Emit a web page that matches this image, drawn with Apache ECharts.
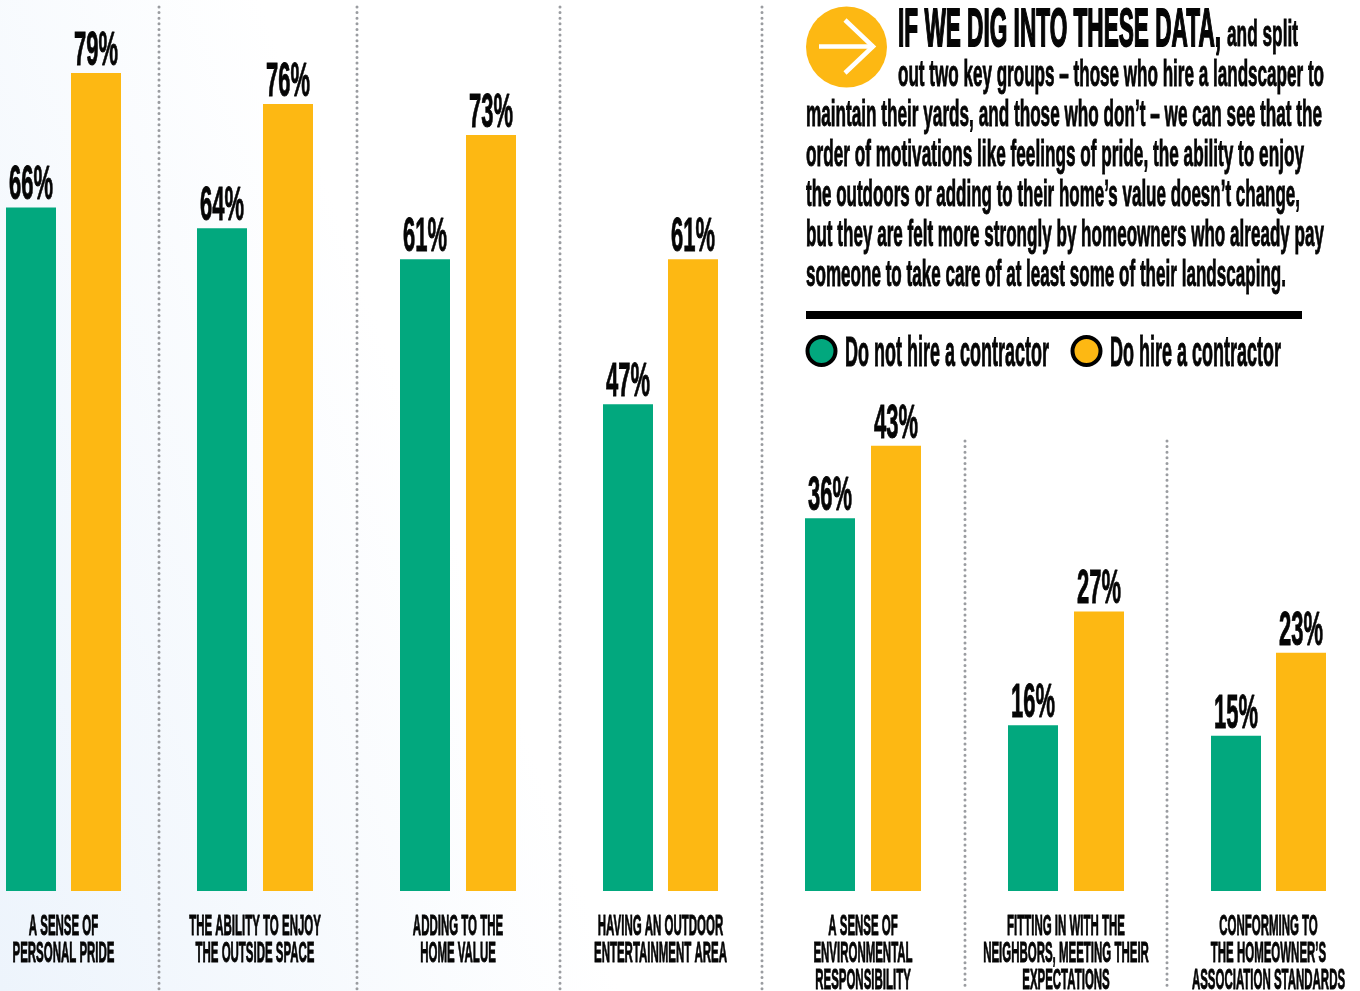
<!DOCTYPE html>
<html>
<head>
<meta charset="utf-8">
<style>html,body{margin:0;padding:0;background:#fff}#chart{width:1360px;height:991px}</style>
<script src="https://cdn.jsdelivr.net/npm/echarts@6/dist/echarts.min.js"></script>
</head>
<body>
<div id="chart"></div>
<script>
// Motivations for landscaping, split by whether the homeowner hires a contractor
const categories = [
  ['A SENSE OF', 'PERSONAL PRIDE'],
  ['THE ABILITY TO ENJOY', 'THE OUTSIDE SPACE'],
  ['ADDING TO THE', 'HOME VALUE'],
  ['HAVING AN OUTDOOR', 'ENTERTAINMENT AREA'],
  ['A SENSE OF', 'ENVIRONMENTAL', 'RESPONSIBILITY'],
  ['FITTING IN WITH THE', 'NEIGHBORS, MEETING THEIR', 'EXPECTATIONS'],
  ['CONFORMING TO', 'THE HOMEOWNER\u2019S', 'ASSOCIATION STANDARDS']
];
const doNotHire = [66, 64, 61, 47, 36, 16, 15];
const doHire = [79, 76, 73, 61, 43, 27, 23];
const seriesNames = ['Do not hire a contractor', 'Do hire a contractor'];

const GREEN = '#02a87e';
const GOLD = '#fdb813';
const INK = '#050505';
const FAMILY = '"Liberation Sans Narrow","Liberation Sans",sans-serif';

// Horizontal centre of each pair of bars, and the gap inside the pair
const groupCentres = [63.5, 255, 458, 660.5, 863, 1066, 1268.5];
const groupGaps = [15, 16, 16, 15, 16, 16, 15];
const BAR_W = 50, PANEL_W = 120;
const BASE_Y = 891, PX_PER_PCT = 10.355, AXIS_MAX = 80;

const measureCtx = document.createElement('canvas').getContext('2d');
function fontOf(size) { return 'bold ' + size + 'px ' + FAMILY; }
function widthOf(text, size) { measureCtx.font = fontOf(size); return measureCtx.measureText(text).width; }

// A condensed text element: the glyphs are squeezed horizontally to the given width
function squeezed(text, size, width, x, baseline, align, fill, weight) {
  return {
    type: 'text', x: x, y: baseline - 0.30 * size, scaleX: width / widthOf(text, size), silent: true,
    style: { text: text, font: fontOf(size), fill: fill || INK, textAlign: align || 'left', textVerticalAlign: 'middle',
             stroke: fill || INK, lineWidth: weight === undefined ? 0.9 : weight }
  };
}

const VALUE_SIZE = 48, VALUE_W = 44, VALUE_LIFT = 7;
const CAT_SIZE = 30, CAT_PITCH = 27, CAT_FIRST_BASE = 936;
const catScale = 102 / widthOf('PERSONAL PRIDE', CAT_SIZE);

const grids = [], xAxes = [], yAxes = [], series = [];
categories.forEach(function (lines, i) {
  const gap = groupGaps[i];
  grids.push({ left: groupCentres[i] - PANEL_W / 2, width: PANEL_W,
               top: BASE_Y - AXIS_MAX * PX_PER_PCT, height: AXIS_MAX * PX_PER_PCT });
  xAxes.push({ type: 'category', gridIndex: i, data: [lines.join(' ')], show: false });
  yAxes.push({ type: 'value', gridIndex: i, min: 0, max: AXIS_MAX, show: false });

  [doNotHire[i], doHire[i]].forEach(function (v, k) {
    series.push({
      type: 'bar', name: seriesNames[k], xAxisIndex: i, yAxisIndex: i, data: [v],
      barWidth: BAR_W, barGap: (gap / BAR_W * 100) + '%',
      itemStyle: { color: k === 0 ? GREEN : GOLD }, silent: true
    });
    // percentage printed above the bar
    series.push({
      type: 'custom', xAxisIndex: i, yAxisIndex: i, data: [[0, v]], silent: true, z: 5,
      renderItem: function (params, api) {
        const p = api.coord([0, api.value(1)]);
        const dx = (k === 0 ? -1 : 1) * (BAR_W + gap) / 2;
        return squeezed(api.value(1) + '%', VALUE_SIZE, VALUE_W, p[0] + dx, p[1] - VALUE_LIFT, 'center');
      }
    });
  });

  // category caption under the pair
  series.push({
    type: 'custom', xAxisIndex: i, yAxisIndex: i, data: [[0, 0]], silent: true, z: 5,
    renderItem: function (params, api) {
      const p = api.coord([0, 0]);
      return {
        type: 'group',
        children: lines.map(function (line, n) {
          const w = widthOf(line, CAT_SIZE) * catScale;
          return squeezed(line, CAT_SIZE, w, p[0], CAT_FIRST_BASE + n * CAT_PITCH, 'center');
        })
      };
    }
  });
});

// Dotted dividers between the groups
const dividers = [[159, 7], [357, 7], [560, 7], [762, 7], [965, 441], [1167, 441]];
const dividerEls = dividers.map(function (d) {
  return { type: 'line', shape: { x1: d[0], y1: d[1], x2: d[0], y2: 989 },
           style: { stroke: '#9a9ca0', lineWidth: 3, lineCap: 'round', lineDash: [0.01, 5.6] }, z: 1 };
});

// Intro paragraph: text, left edge, right edge, baseline
const paragraph = [
  ['out two key groups \u2013 those who hire a landscaper to', 898, 1324, 87],
  ['maintain their yards, and those who don\u2019t \u2013 we can see that the', 806, 1322, 127],
  ['order of motivations like feelings of pride, the ability to enjoy', 806, 1304, 167],
  ['the outdoors or adding to their home\u2019s value doesn\u2019t change,', 806, 1300, 207],
  ['but they are felt more strongly by homeowners who already pay', 806, 1324, 247],
  ['someone to take care of at least some of their landscaping.', 806, 1286, 287]
];
const TEXT_SIZE = 37;
const textEls = paragraph.map(function (l) {
  return squeezed(l[0], TEXT_SIZE, l[2] - l[1], l[1], l[3]);
});
textEls.push(squeezed('IF WE DIG INTO THESE DATA,', 53, 323, 898, 47, 'left', INK, 1.8));
textEls.push(squeezed('and split', TEXT_SIZE, 71, 1227, 47));

const graphic = dividerEls.concat(textEls).concat([
  // arrow badge
  { type: 'circle', shape: { cx: 846.5, cy: 47, r: 40.5 }, style: { fill: GOLD } },
  { type: 'polyline', shape: { points: [[819, 46.5], [874, 46.5]] }, style: { stroke: '#fff', lineWidth: 4.5, fill: null } },
  { type: 'polyline', shape: { points: [[845, 20], [873, 46.5], [845, 73]] }, style: { stroke: '#fff', lineWidth: 4.5, fill: null } },
  // rule above the key
  { type: 'rect', shape: { x: 806, y: 311, width: 496, height: 8 }, style: { fill: '#000' } },
  // key
  { type: 'circle', shape: { cx: 821.5, cy: 351, r: 14 }, style: { fill: GREEN, stroke: '#000', lineWidth: 4 } },
  { type: 'circle', shape: { cx: 1086.5, cy: 351, r: 14 }, style: { fill: GOLD, stroke: '#000', lineWidth: 4 } },
  squeezed(seriesNames[0], 42, 204, 845, 367),
  squeezed(seriesNames[1], 42, 171, 1110, 367)
]);

const chart = echarts.init(document.getElementById('chart'));
chart.setOption({
  animation: false,
  backgroundColor: {
    type: 'linear', x: 0, y: 1, x2: 0.403, y2: 0.80,
    colorStops: [{ offset: 0, color: '#edf4fc' }, { offset: 1, color: '#ffffff' }]
  },
  grid: grids, xAxis: xAxes, yAxis: yAxes, series: series,
  graphic: { elements: graphic }
});
</script>
</body>
</html>
